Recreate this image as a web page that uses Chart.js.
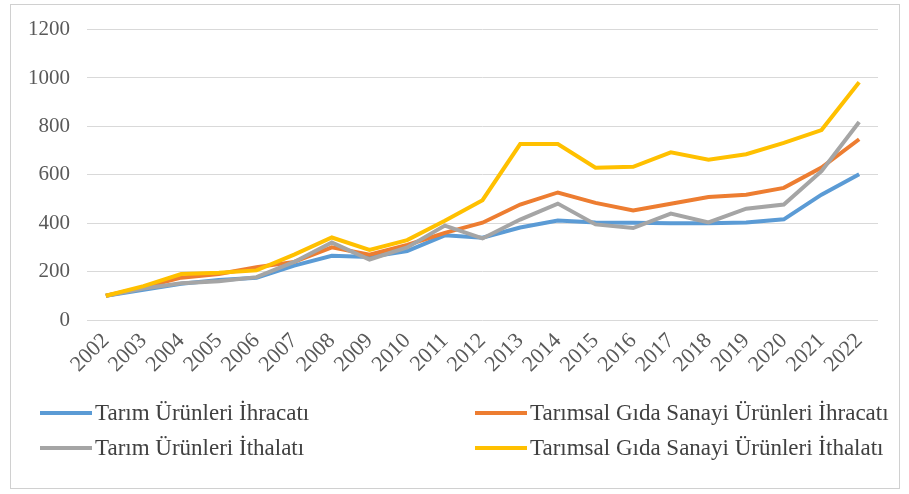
<!DOCTYPE html>
<html>
<head>
<meta charset="utf-8">
<script src="https://cdn.jsdelivr.net/npm/chart.js@4"></script>
<style>
  html, body { margin:0; padding:0; background:#fff; }
  #wrap { position:relative; width:909px; height:494px; }
  #frame { position:absolute; left:10px; top:4px; width:890px; height:485px; border:1px solid #d0d0d0; box-sizing:border-box; }
  canvas { position:absolute; left:0; top:0; }
  #legend { position:absolute; left:0; top:0; width:909px; height:494px; pointer-events:none; }
  .item { position:absolute; display:flex; align-items:center; white-space:nowrap; height:30px;
          font-family:"Liberation Serif", "Times New Roman", serif; font-size:23px; color:#404040; }
  .swatch { width:52px; height:4px; margin-right:3px; }
</style>
</head>
<body>
<div id="wrap">
  <div id="frame"></div>
  <canvas id="c" width="909" height="494"></canvas>
  <div id="legend"></div>
</div>
<script>
// ========= DATA =========
const years = ['2002','2003','2004','2005','2006','2007','2008','2009','2010','2011','2012',
               '2013','2014','2015','2016','2017','2018','2019','2020','2021','2022'];

const tarimIhracat   = [100,125,150,165,175,225,265,260,285,350,340,382,411,403,402,400,400,403,416,518,602];
const gidaIhracat    = [100,135,175,190,218,240,300,270,310,360,402,477,527,484,453,480,508,518,546,630,747];
const tarimIthalat   = [100,130,152,160,177,240,320,250,300,390,337,415,481,395,380,440,403,460,477,615,818];
const gidaIthalat    = [100,140,190,195,205,270,341,290,330,410,495,727,727,629,633,693,662,685,732,785,982];

const seriesNames = ['Tarım Ürünleri İhracatı','Tarımsal Gıda Sanayi Ürünleri İhracatı',
                     'Tarım Ürünleri İthalatı','Tarımsal Gıda Sanayi Ürünleri İthalatı'];
const seriesColors = ['#5B9BD5','#ED7D31','#A5A5A5','#FFC000'];
const yTicks = [0,200,400,600,800,1000,1200];

const font = "'Liberation Serif','Times New Roman',serif";

const mk = (i, data) => ({
    label: seriesNames[i],
    data,
    borderColor: seriesColors[i],
    backgroundColor: seriesColors[i],
    borderWidth: 4,
    pointRadius: 0,
    tension: 0,
    fill: false,
    order: 4 - i   // excel draws the last series on top
});

const chart = new Chart(document.getElementById('c'), {
    type: 'line',
    data: {
        labels: years,
        datasets: [mk(0,tarimIhracat), mk(1,gidaIhracat), mk(2,tarimIthalat), mk(3,gidaIthalat)]
    },
    options: {
        responsive: false,
        animation: false,
        layout: { padding: { left: 10, right: 31, top: 28, bottom: 104 } },
        plugins: { legend: { display: false }, tooltip: { enabled: false } },
        scales: {
            x: {
                offset: true,
                grid: { display: false, drawTicks: false },
                border: { display: false },
                ticks: { minRotation: 45, maxRotation: 45, autoSkip: false, padding: 8,
                         color: '#595959', font: { family: font, size: 22 } },
                afterFit: s => { s.height = 70; }
            },
            y: {
                min: 0, max: 1200,
                afterBuildTicks: s => { s.ticks = yTicks.map(v => ({value: v})); },
                grid: { color: '#d9d9d9', lineWidth: 1, drawTicks: false },
                border: { display: false },
                ticks: { padding: 17, color: '#595959', font: { family: font, size: 21 },
                         callback: v => String(v) },
                afterFit: s => { s.width = 77; }
            }
        }
    }
});

// ========= LEGEND (HTML) =========
const legendPos = [[40,398],[475,398],[40,433],[475,433]];
const leg = document.getElementById('legend');
chart.data.datasets.forEach((ds, i) => {
    const d = document.createElement('div');
    d.className = 'item';
    d.style.left = legendPos[i][0] + 'px';
    d.style.top = legendPos[i][1] + 'px';
    d.innerHTML = `<span class="swatch" style="background:${ds.borderColor}"></span><span>${ds.label}</span>`;
    leg.appendChild(d);
});
</script>
</body>
</html>
